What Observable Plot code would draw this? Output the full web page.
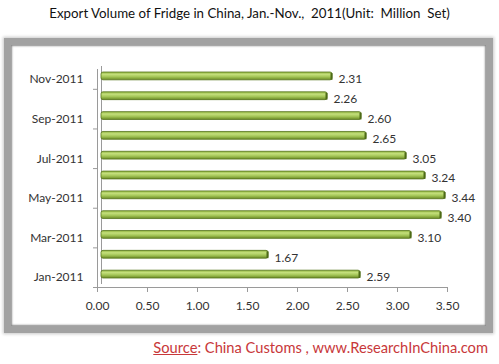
<!DOCTYPE html>
<html>
<head>
<meta charset="utf-8">
<script src="https://cdn.jsdelivr.net/npm/d3@7"></script>
<script src="https://cdn.jsdelivr.net/npm/@observablehq/plot@0.6"></script>
<style>
  html, body { margin: 0; padding: 0; background: #fff; }
  #wrap { position: relative; width: 499px; height: 364px; overflow: hidden; background: #fff; }
  #title { position: absolute; top: 5px; left: 0; width: 499px; text-align: center;
           font-family: Lato, sans-serif; font-size: 13.3px; color: #111; }
  #box { position: absolute; left: 4px; top: 38px; width: 489px; height: 295px; box-sizing: border-box;
         border: 7px solid #a2a2a2; background: #fff;
         box-shadow: 0 0 3px 1px #c8c8c8, inset 0 0 2px 1px #8a8a8a; }
  #chart { position: absolute; left: 0; top: 0; }
  #source { position: absolute; top: 338px; right: 11px; font-family: Lato, sans-serif;
            font-size: 14.7px; color: #c8383a; white-space: nowrap; }
  #source u { text-decoration: underline; }
</style>
</head>
<body>
<div id="wrap">
  <div id="title">Export Volume of Fridge in China, Jan.-Nov.,&nbsp; 2011(Unit:&nbsp; Million&nbsp; Set)</div>
  <div id="box"></div>
  <div id="chart"></div>
  <div id="source"><u>Source</u>: China Customs , www.ResearchInChina.com</div>
</div>
<script>
const months = ["Jan-2011","Feb-2011","Mar-2011","Apr-2011","May-2011","Jun-2011",
                "Jul-2011","Aug-2011","Sep-2011","Oct-2011","Nov-2011"];
const values = [2.59, 1.67, 3.10, 3.40, 3.44, 3.24, 3.05, 2.65, 2.60, 2.26, 2.31];
const xTicks = [0, 0.5, 1, 1.5, 2, 2.5, 3, 3.5];
const yLabelMonths = ["Jan-2011","Mar-2011","May-2011","Jul-2011","Sep-2011","Nov-2011"];
const yTickBounds = [0, 2, 4, 6, 8, 10];

const data = months.map((m, i) => ({month: m, pos: i, value: values[i]}));
const labelPos = yLabelMonths.map(m => months.indexOf(m) + 0.5);

const plot = Plot.plot({
  width: 499,
  height: 364,
  marginLeft: 97,
  marginRight: 52,
  marginTop: 69,
  marginBottom: 77,
  style: {background: "transparent", fontFamily: "Lato, sans-serif", fontSize: "12px", color: "#333"},
  x: {domain: [0, 3.5]},
  y: {domain: [0, 11]},
  marks: [
    Plot.ruleX([0], {dx: 4, dy: -3, stroke: "#9a9a9a"}),
    Plot.ruleX([0], {stroke: "#9a9a9a"}),
    Plot.ruleY([0], {stroke: "#9a9a9a"}),
    Plot.rect(data, {x1: 0, x2: "value", y1: "pos", y2: d => d.pos + 1,
      insetTop: 6, insetBottom: 6, dx: 4, dy: -3, rx: 2,
      fill: "url(#barGrad)", stroke: "#55731c", strokeWidth: 0.8}),
    Plot.link(data, {x1: "value", x2: "value", y1: d => d.pos + 0.33, y2: d => d.pos + 0.67,
      dx: 3, dy: -3, stroke: "#4d6a17", strokeWidth: 2}),
    Plot.text(data, {x: "value", y: d => d.pos + 0.5, text: d => d.value.toFixed(2),
      textAnchor: "start", dx: 10, fill: "#333", fontSize: 12}),
    Plot.axisX({ticks: xTicks, tickFormat: d3.format(".2f"), tickSize: 5, tickPadding: 9,
      stroke: "#9a9a9a", fill: "#333", label: null}),
    Plot.axisY({ticks: yTickBounds, tickSize: 4, tickFormat: () => "", stroke: "#9a9a9a", label: null}),
    Plot.axisY({ticks: labelPos, tickSize: 0, tickPadding: 14,
      tickFormat: p => months[Math.round(p - 0.5)], fill: "#333", label: null})
  ]
});

d3.select(plot).insert("defs", ":first-child").html(`
  <linearGradient id="barGrad" x1="0" y1="0" x2="0" y2="1">
    <stop offset="0" stop-color="#8fb33e"/>
    <stop offset="0.3" stop-color="#c4df7c"/>
    <stop offset="0.6" stop-color="#a5c758"/>
    <stop offset="1" stop-color="#6c8b25"/>
  </linearGradient>`);

document.getElementById("chart").appendChild(plot);
</script>
</body>
</html>
